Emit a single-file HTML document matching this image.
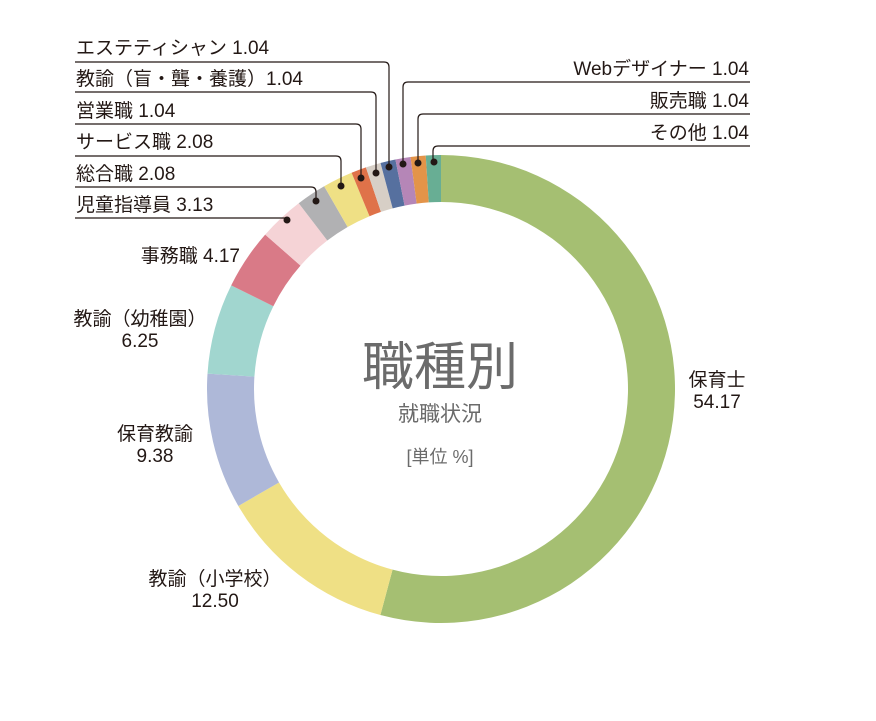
<!DOCTYPE html>
<html><head><meta charset="utf-8"><style>
body{margin:0;background:#fff;}
svg text{font-family:"Liberation Sans","Noto Sans CJK JP",sans-serif;fill:#231815;}
</style></head><body>
<svg width="876" height="716" viewBox="0 0 876 716" xmlns="http://www.w3.org/2000/svg">
<g id="ring"></g>
<g fill="none" stroke="#231815" stroke-width="1.2">
<path d="M75 62 H384 Q389 62 389 67 V167"/>
<path d="M75 92 H371 Q376 92 376 97 V173"/>
<path d="M75 124 H356 Q361 124 361 129 V178"/>
<path d="M75 156 H336 Q341 156 341 161 V186"/>
<path d="M75 187 H311 Q316 187 316 192 V201"/>
<path d="M75 218 H287"/>
<path d="M750 82 H408 Q403 82 403 87 V164"/>
<path d="M750 114 H423 Q418 114 418 119 V163"/>
<path d="M750 146 H438 Q433 146 433 151 V162"/>
</g>
<g fill="#231815">
<circle cx="389" cy="167" r="3.5"/><circle cx="376" cy="173" r="3.5"/><circle cx="361" cy="178" r="3.5"/>
<circle cx="341" cy="186" r="3.5"/><circle cx="316" cy="201" r="3.5"/><circle cx="287" cy="220" r="3.5"/>
<circle cx="403" cy="164" r="3.5"/><circle cx="418" cy="163" r="3.5"/><circle cx="434" cy="162" r="3.5"/>
</g>
<g font-size="19">
<text x="76" y="54">エステティシャン 1.04</text>
<text x="76" y="85">教諭（盲・聾・養護）1.04</text>
<text x="76" y="117">営業職 1.04</text>
<text x="76" y="148">サービス職 2.08</text>
<text x="76" y="180">総合職 2.08</text>
<text x="76" y="211">児童指導員 3.13</text>
<text x="749" y="75" text-anchor="end">Webデザイナー 1.04</text>
<text x="749" y="107" text-anchor="end">販売職 1.04</text>
<text x="749" y="139" text-anchor="end">その他 1.04</text>
<text x="240" y="262" text-anchor="end">事務職 4.17</text>
<text x="140" y="325" text-anchor="middle">教諭（幼稚園）</text>
<text x="140" y="347" text-anchor="middle">6.25</text>
<text x="155" y="440" text-anchor="middle">保育教諭</text>
<text x="155" y="462" text-anchor="middle">9.38</text>
<text x="215" y="585" text-anchor="middle">教諭（小学校）</text>
<text x="215" y="607" text-anchor="middle">12.50</text>
<text x="717" y="386" text-anchor="middle">保育士</text>
<text x="717" y="408" text-anchor="middle">54.17</text>
</g>
<text x="440" y="385" font-size="52" text-anchor="middle" style="fill:#6b6b6b">職種別</text>
<text x="440" y="421" font-size="21" text-anchor="middle" style="fill:#6b6b6b">就職状況</text>
<text x="440" y="463" font-size="18" text-anchor="middle" style="fill:#6b6b6b">[単位 %]</text>
</svg>
<script>
var d=[[54.17,"#a5bf72"],[12.50,"#efe085"],[9.38,"#aeb8d8"],[6.25,"#a1d6cf"],[4.17,"#d97a87"],[3.13,"#f5d3d6"],[2.08,"#b1b1b3"],[2.08,"#efe085"],[1.04,"#df7249"],[1.04,"#d7cfc6"],[1.04,"#56709f"],[1.04,"#b586b7"],[1.04,"#e39449"],[1.04,"#68ae94"]];
var cx=441,cy=389,R=234,r=187,tot=0;d.forEach(function(a){tot+=a[0]});
var a0=0,g=document.getElementById("ring"),s="";
function p(a,rad){return [cx+rad*Math.sin(a),cy-rad*Math.cos(a)];}
d.forEach(function(x){var a1=a0+x[0]/tot*2*Math.PI,l=(a1-a0)>Math.PI?1:0;
var A=p(a0,R),B=p(a1,R),C=p(a1,r),D=p(a0,r);
s+='<path fill="'+x[1]+'" d="M'+A+' A'+R+' '+R+' 0 '+l+' 1 '+B+' L'+C+' A'+r+' '+r+' 0 '+l+' 0 '+D+'Z"/>';a0=a1;});
g.innerHTML=s;
</script>
</body></html>
